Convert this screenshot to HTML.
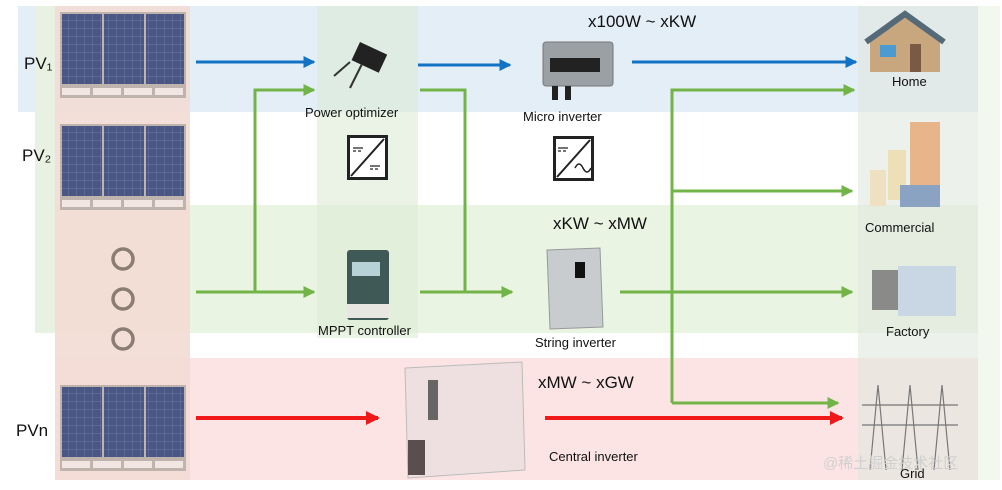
<!DOCTYPE html>
<html><head><meta charset="utf-8"><style>
html,body{margin:0;padding:0;background:#fff;}
svg{display:block;}
text{font-family:"Liberation Sans","Noto Sans CJK SC",sans-serif;fill:#111;}
</style></head><body>
<svg width="1002" height="490" viewBox="0 0 1002 490" xmlns="http://www.w3.org/2000/svg">
<defs>
<marker id="ab" markerWidth="4" markerHeight="4" refX="3.5" refY="2" orient="auto" markerUnits="strokeWidth"><path d="M0,0 L4,2 L0,4 z" fill="#1273c4"/></marker>
<marker id="ag" markerWidth="4" markerHeight="4" refX="3.5" refY="2" orient="auto" markerUnits="strokeWidth"><path d="M0,0 L4,2 L0,4 z" fill="#72b447"/></marker>
<marker id="ar" markerWidth="3.5" markerHeight="3.5" refX="3" refY="1.75" orient="auto" markerUnits="strokeWidth"><path d="M0,0 L3.5,1.75 L0,3.5 z" fill="#f01818"/></marker>
<pattern id="cell" width="8" height="8" patternUnits="userSpaceOnUse"><rect width="8" height="8" fill="#4a5784"/><path d="M0,0H8M0,0V8" stroke="#7584aa" stroke-width="0.7"/></pattern>
<g id="panel">
<rect x="0" y="0" width="126" height="86" fill="#bfb3ae"/>
<rect x="2" y="2" width="40" height="70" fill="url(#cell)"/>
<rect x="44" y="2" width="40" height="70" fill="url(#cell)"/>
<rect x="86" y="2" width="38" height="70" fill="url(#cell)"/>
<rect x="2" y="76" width="28" height="7" fill="#f1e6e2"/><rect x="33" y="76" width="28" height="7" fill="#f1e6e2"/>
<rect x="64" y="76" width="28" height="7" fill="#f1e6e2"/><rect x="95" y="76" width="28" height="7" fill="#f1e6e2"/>
</g>
<g id="conv"><rect x="1.5" y="1.5" width="38" height="42" fill="#fff" stroke="#222" stroke-width="3"/><line x1="4" y1="41" x2="37" y2="4" stroke="#222" stroke-width="2"/></g>
</defs>
<rect x="18" y="6" width="960" height="106" fill="#e4eef7"/>
<rect x="35" y="205" width="965" height="128" fill="#eaf4e2"/>
<rect x="55" y="358" width="923" height="122" fill="#fde4e4"/>
<rect x="35" y="6" width="20" height="327" fill="#e9f1e2"/>
<rect x="55" y="6" width="135" height="474" fill="#f3dcd4" opacity="0.9"/>
<rect x="317" y="6" width="101" height="332" fill="#dcebd6" opacity="0.6"/>
<rect x="858" y="6" width="120" height="474" fill="#dfe8de" opacity="0.6"/>
<rect x="978" y="6" width="22" height="474" fill="#f2f8ee"/>
<use href="#panel" x="60" y="12"/>
<use href="#panel" x="60" y="124"/>
<use href="#panel" x="60" y="385"/>
<circle cx="123" cy="259" r="10" fill="none" stroke="#8b7c74" stroke-width="3.5"/>
<circle cx="123" cy="299" r="10" fill="none" stroke="#8b7c74" stroke-width="3.5"/>
<circle cx="123" cy="339" r="10" fill="none" stroke="#8b7c74" stroke-width="3.5"/>
<text x="24" y="69" font-size="17">PV₁</text>
<text x="22" y="161" font-size="17">PV₂</text>
<text x="16" y="436" font-size="17">PVn</text>
<g stroke="#72b447" stroke-width="3" fill="none">
<line x1="196" y1="292" x2="314" y2="292" marker-end="url(#ag)"/>
<polyline points="255,292 255,90 314,90" marker-end="url(#ag)"/>
<polyline points="420,90 465,90 465,292"/>
<line x1="420" y1="292" x2="512" y2="292" marker-end="url(#ag)"/>
<line x1="620" y1="292" x2="852" y2="292" marker-end="url(#ag)"/>
<polyline points="672,403 672,90 854,90" marker-end="url(#ag)"/>
<line x1="672" y1="191" x2="852" y2="191" marker-end="url(#ag)"/>
<polyline points="672,403 838,403" marker-end="url(#ag)"/>
</g>
<g stroke="#1273c4" stroke-width="3" fill="none">
<line x1="196" y1="62" x2="314" y2="62" marker-end="url(#ab)"/>
<line x1="418" y1="65" x2="510" y2="65" marker-end="url(#ab)"/>
<line x1="632" y1="62" x2="856" y2="62" marker-end="url(#ab)"/>
</g>
<g stroke="#f01818" stroke-width="4" fill="none">
<line x1="196" y1="418" x2="378" y2="418" marker-end="url(#ar)"/>
<line x1="545" y1="418" x2="842" y2="418" marker-end="url(#ar)"/>
</g>
<g transform="translate(360,42) rotate(25)"><rect x="0" y="0" width="30" height="20" fill="#222"/></g>
<line x1="350" y1="62" x2="334" y2="76" stroke="#333" stroke-width="2"/>
<line x1="362" y1="64" x2="350" y2="88" stroke="#333" stroke-width="2"/>
<text x="305" y="117" font-size="13">Power optimizer</text>
<use href="#conv" x="347" y="135"/>
<path d="M353,148h10M353,151h3M358,151h3M370,166h10M370,169h3M375,169h3" stroke="#222" stroke-width="1.2"/>
<rect x="543" y="42" width="70" height="44" rx="3" fill="#9aa0a4" stroke="#777"/>
<rect x="550" y="58" width="50" height="14" fill="#222"/>
<rect x="552" y="86" width="6" height="14" fill="#222"/><rect x="565" y="86" width="6" height="14" fill="#222"/>
<text x="523" y="121" font-size="13">Micro inverter</text>
<text x="588" y="27" font-size="17">x100W ~ xKW</text>
<use href="#conv" x="553" y="136"/>
<path d="M558,148h10M558,151h3M563,151h3" stroke="#222" stroke-width="1.2"/>
<path d="M575,168q4,-8 8,0t8,0" stroke="#222" stroke-width="1.5" fill="none"/>
<rect x="347" y="250" width="42" height="70" rx="3" fill="#3f5a56"/>
<rect x="352" y="262" width="28" height="14" fill="#b7d2d6"/>
<rect x="347" y="304" width="42" height="14" fill="#e8e6e0"/>
<text x="318" y="335" font-size="13">MPPT controller</text>
<text x="553" y="229" font-size="17">xKW ~ xMW</text>
<path d="M547,250 L600,248 L603,327 L550,329 Z" fill="#c8ccce" stroke="#999"/>
<rect x="575" y="262" width="10" height="16" fill="#111"/>
<text x="535" y="347" font-size="13">String inverter</text>
<path d="M405,368 L522,362 L525,470 L408,478 Z" fill="#eee0e0" stroke="#bbb"/>
<rect x="408" y="440" width="17" height="35" fill="#5a4e4e"/>
<rect x="428" y="380" width="10" height="40" fill="#666"/>
<text x="538" y="388" font-size="17">xMW ~ xGW</text>
<text x="549" y="461" font-size="13">Central inverter</text>
<path d="M870,42 L905,16 L940,42 L940,72 L870,72 Z" fill="#c9a77e"/>
<path d="M866,42 L905,14 L944,42" stroke="#556a78" stroke-width="6" fill="none"/>
<rect x="880" y="45" width="16" height="12" fill="#4b9bd0"/><rect x="910" y="44" width="11" height="28" fill="#7a5a42"/>
<text x="892" y="86" font-size="13">Home</text>
<rect x="910" y="122" width="30" height="82" fill="#e8b58a"/><rect x="888" y="150" width="18" height="50" fill="#eee0b6"/>
<rect x="870" y="170" width="16" height="36" fill="#eee0c0"/><rect x="900" y="185" width="40" height="22" fill="#8aa3c2"/>
<text x="865" y="232" font-size="13">Commercial</text>
<rect x="872" y="270" width="30" height="40" fill="#8a8a88"/><rect x="898" y="266" width="58" height="50" fill="#c9d6e4"/>
<text x="886" y="336" font-size="13">Factory</text>
<g stroke="#777" stroke-width="1.2" fill="none">
<path d="M870,470 L878,385 L886,470 M902,470 L910,385 L918,470 M934,470 L942,385 L950,470 M862,405H958 M862,425H958"/>
</g>
<text x="900" y="478" font-size="13">Grid</text>
<text x="823" y="468" font-size="15" style="fill:#d0d0d0">@稀土掘金技术社区</text>
</svg>
</body></html>
